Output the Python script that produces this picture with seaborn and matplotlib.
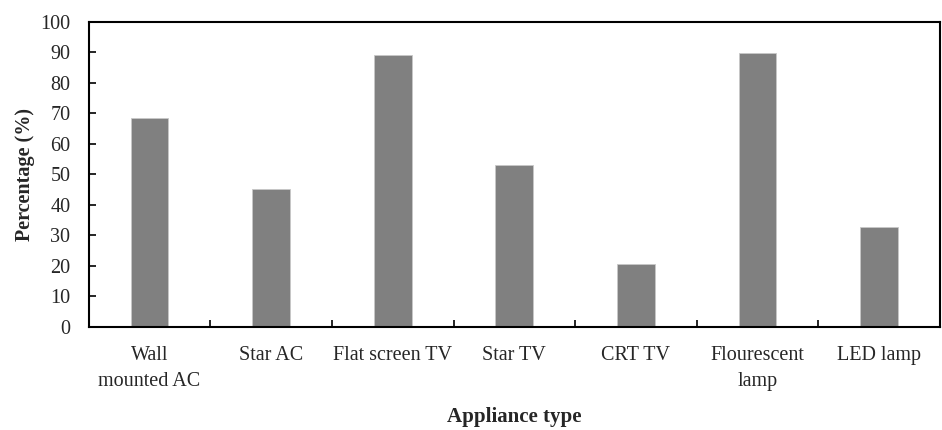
import numpy as np
import pandas as pd
import matplotlib
matplotlib.use('Agg')
import matplotlib.pyplot as plt
import seaborn as sns

# Values
appliances = ['Wall\nmounted AC', 'Star AC', 'Flat screen TV', 'Star TV',
              'CRT TV', 'Flourescent\nlamp', 'LED lamp']
percentages = [68.5, 45.2, 89.2, 53.1, 20.6, 89.8, 32.8]

df = pd.DataFrame({'appliance': appliances, 'percentage': percentages})

sns.set_style('white')
plt.rcParams['font.family'] = ['Liberation Serif', 'DejaVu Serif']

fig, ax = plt.subplots(figsize=(9.42, 4.30), dpi=100)
fig.subplots_adjust(left=0.094, right=0.998, top=0.949, bottom=0.24)

sns.barplot(x='appliance', y='percentage', data=df, color='#808080',
            saturation=1, width=0.31, edgecolor='#c8c8c8', linewidth=0.6, ax=ax)

ax.set_xlim(-0.5, len(appliances) - 0.5)
ax.set_ylim(0, 100)
ax.set_yticks(np.arange(0, 101, 10))

# ticks at category boundaries on the x axis
ax.set_xticks(np.arange(0.5, len(appliances) - 0.5, 1), minor=True)
ax.tick_params(axis='x', which='major', bottom=True, length=0, pad=14, labelsize=14.5)
ax.tick_params(axis='x', which='minor', bottom=True, direction='in',
               length=5, width=1.2, color='black')
ax.tick_params(axis='y', which='major', left=True, direction='in',
               length=5, width=1.2, color='black', labelsize=14.5, pad=13)
for lbl in ax.get_xticklabels():
    lbl.set_linespacing(1.45)

for spine in ax.spines.values():
    spine.set_visible(True)
    spine.set_color('black')
    spine.set_linewidth(1.5)

ax.set_xlabel('Appliance type', fontsize=15, fontweight='bold', labelpad=12)
ax.set_ylabel('Percentage (%)', fontsize=14.5, fontweight='bold', labelpad=4)

plt.savefig('out.png', dpi=100)
plt.close()
